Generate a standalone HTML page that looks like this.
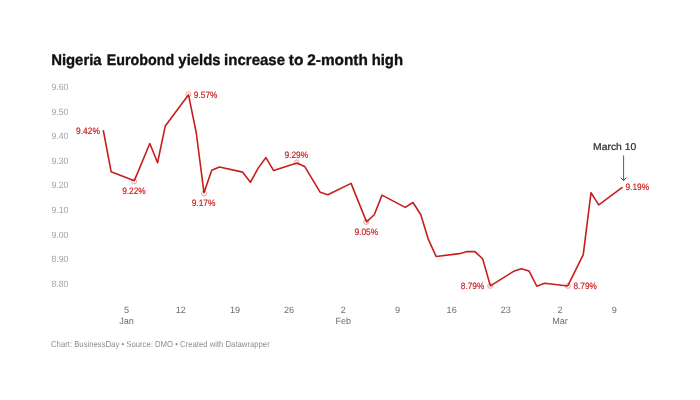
<!DOCTYPE html>
<html><head><meta charset="utf-8"><style>
html,body{margin:0;padding:0;background:#fff;}
body{width:700px;height:400px;overflow:hidden;position:relative;font-family:"Liberation Sans",sans-serif;}
svg{position:absolute;left:0;top:0;will-change:transform;}
svg text{font-family:"Liberation Sans",sans-serif;text-rendering:geometricPrecision;}
</style></head><body>
<svg width="700" height="400" viewBox="0 0 700 400">

<text x="126.60" y="313.10" text-anchor="middle" font-size="9.1" fill="#6e6e6e" font-weight="normal">5</text><text x="126.60" y="324.10" text-anchor="middle" font-size="9.1" fill="#6e6e6e" font-weight="normal">Jan</text><text x="180.78" y="313.10" text-anchor="middle" font-size="9.1" fill="#6e6e6e" font-weight="normal">12</text><text x="234.96" y="313.10" text-anchor="middle" font-size="9.1" fill="#6e6e6e" font-weight="normal">19</text><text x="289.14" y="313.10" text-anchor="middle" font-size="9.1" fill="#6e6e6e" font-weight="normal">26</text><text x="343.32" y="313.10" text-anchor="middle" font-size="9.1" fill="#6e6e6e" font-weight="normal">2</text><text x="343.32" y="324.10" text-anchor="middle" font-size="9.1" fill="#6e6e6e" font-weight="normal">Feb</text><text x="397.50" y="313.10" text-anchor="middle" font-size="9.1" fill="#6e6e6e" font-weight="normal">9</text><text x="451.68" y="313.10" text-anchor="middle" font-size="9.1" fill="#6e6e6e" font-weight="normal">16</text><text x="505.86" y="313.10" text-anchor="middle" font-size="9.1" fill="#6e6e6e" font-weight="normal">23</text><text x="560.04" y="313.10" text-anchor="middle" font-size="9.1" fill="#6e6e6e" font-weight="normal">2</text><text x="560.04" y="324.10" text-anchor="middle" font-size="9.1" fill="#6e6e6e" font-weight="normal">Mar</text><text x="614.22" y="313.10" text-anchor="middle" font-size="9.1" fill="#6e6e6e" font-weight="normal">9</text>
<circle cx="188.30" cy="94.40" r="2.5" fill="none" stroke="#c71e1d" stroke-opacity="0.4" stroke-width="1"/><circle cx="134.20" cy="181.30" r="2.5" fill="none" stroke="#c71e1d" stroke-opacity="0.4" stroke-width="1"/><circle cx="204.00" cy="193.50" r="2.5" fill="none" stroke="#c71e1d" stroke-opacity="0.4" stroke-width="1"/><circle cx="296.60" cy="162.60" r="2.5" fill="none" stroke="#c71e1d" stroke-opacity="0.4" stroke-width="1"/><circle cx="366.10" cy="221.90" r="2.5" fill="none" stroke="#c71e1d" stroke-opacity="0.4" stroke-width="1"/><circle cx="490.20" cy="285.90" r="2.5" fill="none" stroke="#c71e1d" stroke-opacity="0.4" stroke-width="1"/><circle cx="567.90" cy="285.90" r="2.5" fill="none" stroke="#c71e1d" stroke-opacity="0.4" stroke-width="1"/>
<path d="M103.38,130.75 L111.12,171.65 L134.34,180.65 L149.82,143.55 L157.56,162.75 L165.30,125.95 L188.52,94.85 L196.26,132.75 L204.00,192.85 L211.74,170.35 L219.48,166.95 L242.70,172.15 L250.44,182.25 L258.18,168.15 L265.92,157.55 L273.66,170.55 L296.88,163.10 L304.62,166.45 L320.10,192.15 L327.84,194.75 L351.06,183.35 L366.54,221.85 L374.28,214.75 L382.02,195.15 L405.24,207.35 L412.98,202.45 L420.72,214.55 L428.46,239.65 L436.20,256.55 L459.42,253.65 L467.16,251.55 L474.90,251.65 L482.64,258.75 L490.38,285.85 L513.60,271.35 L521.34,268.75 L529.08,271.05 L536.82,286.25 L544.56,283.25 L567.78,285.95 L583.26,254.65 L591.00,192.75 L598.74,204.85 L621.96,187.55" fill="none" stroke="#c71e1d" stroke-width="1.6" stroke-linejoin="round" stroke-linecap="round"/>
<path d="M623.6,155.4 L623.6,180.4" stroke="#4a4a4a" stroke-width="0.9" fill="none"/><path d="M621.1,178.0 L623.6,180.5 L626.1,178.0" stroke="#333" stroke-width="1" fill="none" stroke-linecap="round" stroke-linejoin="round"/>
<text x="51.13" y="64.80" font-size="15.3" font-weight="bold" fill="#111111" textLength="50.49" lengthAdjust="spacingAndGlyphs" stroke="#111111" stroke-width="0.35">Nigeria</text>
<text x="106.82" y="64.80" font-size="15.3" font-weight="bold" fill="#111111" textLength="67.35" lengthAdjust="spacingAndGlyphs" stroke="#111111" stroke-width="0.35">Eurobond</text>
<text x="178.36" y="64.80" font-size="15.3" font-weight="bold" fill="#111111" textLength="42.25" lengthAdjust="spacingAndGlyphs" stroke="#111111" stroke-width="0.35">yields</text>
<text x="224.12" y="64.80" font-size="15.3" font-weight="bold" fill="#111111" textLength="60.96" lengthAdjust="spacingAndGlyphs" stroke="#111111" stroke-width="0.35">increase</text>
<text x="288.85" y="64.80" font-size="15.3" font-weight="bold" fill="#111111" textLength="14.61" lengthAdjust="spacingAndGlyphs" stroke="#111111" stroke-width="0.35">to</text>
<text x="307.25" y="64.80" font-size="15.3" font-weight="bold" fill="#111111" textLength="60.60" lengthAdjust="spacingAndGlyphs" stroke="#111111" stroke-width="0.35">2-month</text>
<text x="371.63" y="64.80" font-size="15.3" font-weight="bold" fill="#111111" textLength="31.39" lengthAdjust="spacingAndGlyphs" stroke="#111111" stroke-width="0.35">high</text>
<text x="76.04" y="133.65" font-size="9.2" font-weight="normal" fill="#c71e1d" textLength="23.84" lengthAdjust="spacingAndGlyphs" stroke="#c71e1d" stroke-width="0.18">9.42%</text>
<text x="193.85" y="97.85" font-size="9.2" font-weight="normal" fill="#c71e1d" textLength="23.53" lengthAdjust="spacingAndGlyphs" stroke="#c71e1d" stroke-width="0.18">9.57%</text>
<text x="122.15" y="193.85" font-size="9.2" font-weight="normal" fill="#c71e1d" textLength="23.64" lengthAdjust="spacingAndGlyphs" stroke="#c71e1d" stroke-width="0.18">9.22%</text>
<text x="191.64" y="205.65" font-size="9.2" font-weight="normal" fill="#c71e1d" textLength="23.84" lengthAdjust="spacingAndGlyphs" stroke="#c71e1d" stroke-width="0.18">9.17%</text>
<text x="284.44" y="157.65" font-size="9.2" font-weight="normal" fill="#c71e1d" textLength="23.84" lengthAdjust="spacingAndGlyphs" stroke="#c71e1d" stroke-width="0.18">9.29%</text>
<text x="354.44" y="234.65" font-size="9.2" font-weight="normal" fill="#c71e1d" textLength="23.84" lengthAdjust="spacingAndGlyphs" stroke="#c71e1d" stroke-width="0.18">9.05%</text>
<text x="460.85" y="288.75" font-size="9.2" font-weight="normal" fill="#c71e1d" textLength="23.43" lengthAdjust="spacingAndGlyphs" stroke="#c71e1d" stroke-width="0.18">8.79%</text>
<text x="573.45" y="288.75" font-size="9.2" font-weight="normal" fill="#c71e1d" textLength="23.43" lengthAdjust="spacingAndGlyphs" stroke="#c71e1d" stroke-width="0.18">8.79%</text>
<text x="625.44" y="189.95" font-size="9.2" font-weight="normal" fill="#c71e1d" textLength="23.74" lengthAdjust="spacingAndGlyphs" stroke="#c71e1d" stroke-width="0.18">9.19%</text>
<text x="593.13" y="150.30" font-size="10.0" font-weight="normal" fill="#262626" textLength="43.03" lengthAdjust="spacingAndGlyphs" stroke="#262626" stroke-width="0.2">March 10</text>
<text x="51.05" y="346.90" font-size="8.6" font-weight="normal" fill="#8f8f8f" textLength="218.69" lengthAdjust="spacingAndGlyphs">Chart: BusinessDay • Source: DMO • Created with Datawrapper</text>
<text x="51.42" y="90.30" font-size="9.1" font-weight="normal" fill="#a3a3a3" textLength="17.02" lengthAdjust="spacingAndGlyphs">9.60</text>
<text x="51.42" y="114.84" font-size="9.1" font-weight="normal" fill="#a3a3a3" textLength="17.02" lengthAdjust="spacingAndGlyphs">9.50</text>
<text x="51.42" y="139.38" font-size="9.1" font-weight="normal" fill="#a3a3a3" textLength="17.02" lengthAdjust="spacingAndGlyphs">9.40</text>
<text x="51.42" y="163.92" font-size="9.1" font-weight="normal" fill="#a3a3a3" textLength="17.02" lengthAdjust="spacingAndGlyphs">9.30</text>
<text x="51.42" y="188.46" font-size="9.1" font-weight="normal" fill="#a3a3a3" textLength="17.02" lengthAdjust="spacingAndGlyphs">9.20</text>
<text x="51.42" y="213.00" font-size="9.1" font-weight="normal" fill="#a3a3a3" textLength="17.02" lengthAdjust="spacingAndGlyphs">9.10</text>
<text x="51.42" y="237.54" font-size="9.1" font-weight="normal" fill="#a3a3a3" textLength="17.02" lengthAdjust="spacingAndGlyphs">9.00</text>
<text x="51.42" y="262.08" font-size="9.1" font-weight="normal" fill="#a3a3a3" textLength="17.02" lengthAdjust="spacingAndGlyphs">8.90</text>
<text x="51.42" y="286.62" font-size="9.1" font-weight="normal" fill="#a3a3a3" textLength="17.02" lengthAdjust="spacingAndGlyphs">8.80</text>

</svg>
</body></html>
